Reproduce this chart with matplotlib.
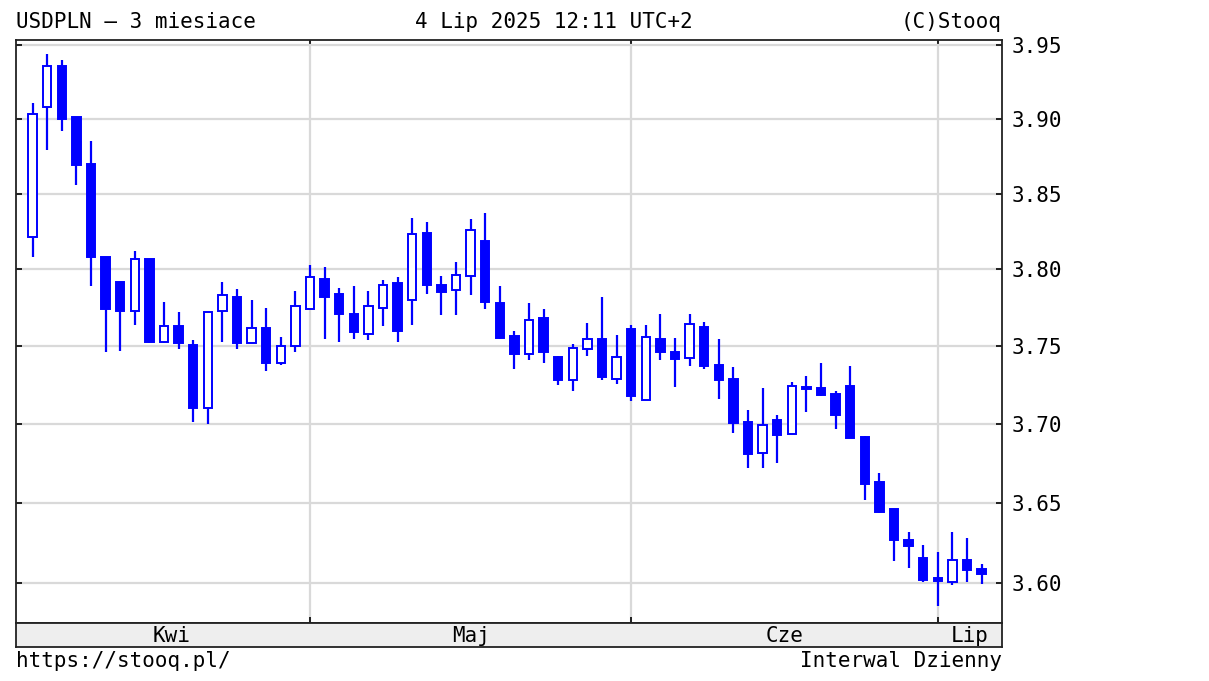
import matplotlib
matplotlib.use("Agg")
import matplotlib.pyplot as plt
import pandas as pd
from matplotlib.ticker import FixedLocator, NullLocator, FuncFormatter

# daily USDPLN candles, 4 Apr 2025 - 4 Jul 2025 (weekdays)
dates = pd.bdate_range("2025-04-04", "2025-07-04")

opens = [3.821, 3.908, 3.936, 3.901, 3.870, 3.808, 3.792, 3.773, 3.807, 3.753,
         3.763, 3.751, 3.710, 3.773, 3.782, 3.752, 3.762, 3.739, 3.750, 3.774,
         3.794, 3.784, 3.771, 3.758, 3.775, 3.791, 3.780, 3.824, 3.790, 3.7865,
         3.796, 3.819, 3.778, 3.7565, 3.745, 3.768, 3.743, 3.728, 3.7485, 3.755,
         3.729, 3.761, 3.7157, 3.755, 3.7464, 3.7425, 3.7624, 3.738, 3.729, 3.701,
         3.6816, 3.7024, 3.6936, 3.7235, 3.7232, 3.7195, 3.7245, 3.6918, 3.6629, 3.6459,
         3.627, 3.6155, 3.603, 3.6006, 3.6145, 3.6088]
highs = [3.911, 3.944, 3.940, 3.901, 3.885, 3.808, 3.792, 3.812, 3.807, 3.779,
         3.772, 3.754, 3.772, 3.792, 3.787, 3.780, 3.775, 3.756, 3.786, 3.803,
         3.8015, 3.788, 3.789, 3.786, 3.793, 3.795, 3.834, 3.831, 3.7955, 3.805,
         3.833, 3.837, 3.789, 3.760, 3.778, 3.774, 3.744, 3.7515, 3.765, 3.782,
         3.7575, 3.7635, 3.764, 3.771, 3.7554, 3.771, 3.766, 3.755, 3.7367, 3.709,
         3.7232, 3.706, 3.727, 3.7307, 3.7393, 3.721, 3.737, 3.6927, 3.669, 3.6465,
         3.632, 3.6237, 3.619, 3.632, 3.628, 3.612]
lows = [3.808, 3.879, 3.892, 3.856, 3.789, 3.746, 3.747, 3.764, 3.752, 3.752,
        3.748, 3.701, 3.700, 3.753, 3.748, 3.752, 3.734, 3.738, 3.746, 3.774,
        3.755, 3.753, 3.755, 3.754, 3.763, 3.753, 3.764, 3.784, 3.770, 3.770,
        3.783, 3.774, 3.755, 3.735, 3.741, 3.739, 3.725, 3.721, 3.744, 3.728,
        3.7255, 3.7145, 3.7157, 3.741, 3.7236, 3.737, 3.735, 3.716, 3.694, 3.672,
        3.672, 3.675, 3.6936, 3.708, 3.718, 3.697, 3.691, 3.6517, 3.6435, 3.6135,
        3.609, 3.6006, 3.586, 3.5986, 3.6006, 3.5996]
closes = [3.903, 3.936, 3.900, 3.869, 3.808, 3.774, 3.773, 3.807, 3.753, 3.763,
          3.752, 3.710, 3.772, 3.783, 3.752, 3.762, 3.739, 3.750, 3.776, 3.795,
          3.782, 3.771, 3.759, 3.776, 3.790, 3.760, 3.823, 3.790, 3.785, 3.7964,
          3.826, 3.779, 3.7556, 3.7447, 3.767, 3.746, 3.728, 3.749, 3.7547, 3.730,
          3.743, 3.718, 3.756, 3.746, 3.742, 3.7646, 3.7371, 3.728, 3.7006, 3.681,
          3.6996, 3.6932, 3.7243, 3.7225, 3.7189, 3.7056, 3.691, 3.6618, 3.6445, 3.6265,
          3.6227, 3.6016, 3.601, 3.6143, 3.6078, 3.6053]

month_names = {4: "Kwi", 5: "Maj", 6: "Cze", 7: "Lip"}
yticks = [3.60, 3.65, 3.70, 3.75, 3.80, 3.85, 3.90, 3.95]

blue = "#0000ff"
grid_c = "#d9d9d9"
mono = "DejaVu Sans Mono"
fs = 15

W, H = 1209, 681
fig = plt.figure(figsize=(W / 100, H / 100), dpi=100)
ax = fig.add_axes([16 / W, (H - 623) / H, 986 / W, 583 / H])
band = fig.add_axes([16 / W, (H - 647) / H, 986 / W, 24 / H])

xs = list(range(len(dates)))
xlim = (-1.14, 66.4)

# month boundaries = first trading day of each new month
months = [d.month for d in dates]
starts = [i for i in range(1, len(months)) if months[i] != months[i - 1]]

ax.set_yscale("log")
ax.set_ylim(3.5752, 3.9534)
ax.set_xlim(*xlim)
ax.yaxis.set_major_locator(FixedLocator(yticks))
ax.yaxis.set_minor_locator(NullLocator())
ax.yaxis.set_major_formatter(FuncFormatter(lambda v, p: f"{v:.2f}"))
ax.set_xticks(starts)
ax.set_xticklabels([])
ax.grid(True, color=grid_c, lw=1.6, zorder=0)
ax.set_axisbelow(True)
ax.tick_params(axis="both", which="both", direction="in", length=4, width=1.2,
               left=True, right=True, top=True, bottom=True,
               labelleft=False, labelright=True, labelbottom=False)
ax.tick_params(axis="y", labelsize=fs, pad=7)
for lab in ax.get_yticklabels():
    lab.set_fontfamily(mono)
for s in ax.spines.values():
    s.set_linewidth(1.3)
    s.set_color("#222222")

# candles
for x, o, h, l, c in zip(xs, opens, highs, lows, closes):
    ax.vlines(x, l, h, color=blue, lw=1.6, zorder=2)
    up = c >= o
    lo, hi = (o, c) if up else (c, o)
    ax.bar(x, hi - lo, bottom=lo, width=0.58,
           facecolor="white" if up else blue, edgecolor=blue,
           linewidth=1.4, zorder=3)

# month band
band.set_xlim(*xlim)
band.set_ylim(0, 1)
band.set_facecolor("#eeeeee")
band.set_xticks([])
band.set_yticks([])
for s in band.spines.values():
    s.set_linewidth(1.3)
    s.set_color("#222222")
edges = [0] + starts + [xlim[1]]
seg_months = [months[0]] + [months[i] for i in starts]
for a, b, m in zip(edges[:-1], edges[1:], seg_months):
    band.text((a + b) / 2, 0.45, month_names[m], ha="center", va="center",
              fontsize=fs, family=mono)

# header / footer texts
ty = 1 - 22 / H
fig.text(16 / W, ty, "USDPLN – 3 miesiace", ha="left", va="center", fontsize=fs, family=mono)
fig.text(415 / W, ty, "4 Lip 2025 12:11 UTC+2", ha="left", va="center", fontsize=fs, family=mono)
fig.text(1002 / W, ty, "(C)Stooq", ha="right", va="center", fontsize=fs, family=mono)
by = 1 - 661 / H
fig.text(16 / W, by, "https://stooq.pl/", ha="left", va="center", fontsize=fs, family=mono)
fig.text(1002 / W, by, "Interwal Dzienny", ha="right", va="center", fontsize=fs, family=mono)

fig.savefig("out.png", dpi=100, facecolor="white")
